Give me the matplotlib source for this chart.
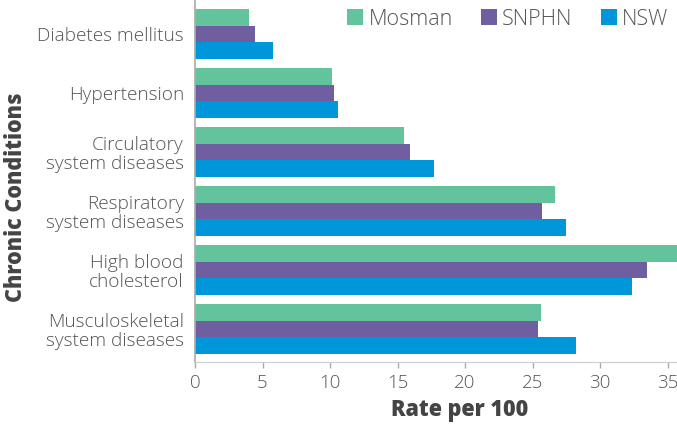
import matplotlib
matplotlib.use("Agg")
import matplotlib.pyplot as plt
import numpy as np

categories = ["Diabetes mellitus", "Hypertension", "Circulatory\nsystem diseases",
              "Respiratory\nsystem diseases", "High blood\ncholesterol",
              "Musculoskeletal\nsystem diseases"]
series_names = ["Mosman", "SNPHN", "NSW"]
mosman = [4.0, 10.15, 15.5, 26.65, 35.8, 25.6]
snphn = [4.45, 10.3, 15.95, 25.7, 33.5, 25.4]
nsw = [5.75, 10.6, 17.7, 27.5, 32.4, 28.2]
xticks = [0, 5, 10, 15, 20, 25, 30, 35]

colors = ["#63C39D", "#6F5FA0", "#0096DA"]
txt = "#555555"
plt.rcParams['font.family'] = ['Open Sans', 'DejaVu Sans']

fig = plt.figure(figsize=(6.77, 4.28), dpi=100)
ax = fig.add_axes([195/677, (428-362)/428, (677-195)/677, 362/428])

y = np.arange(len(categories))
h = 0.85/3
for i, (vals, name) in enumerate(zip([mosman, snphn, nsw], series_names)):
    ax.barh(y - h + i*h, vals, height=h, color=colors[i], label=name, linewidth=0)

ax.set_ylim(5.56, -0.578)
ax.set_xlim(0, 35.7)
ax.set_yticks(y)
ax.set_yticklabels(categories, fontsize=13.7, color=txt, linespacing=1.1, fontweight='light')
ax.set_xticks(xticks)
ax.set_xticklabels([str(t) for t in xticks], fontsize=13.5, color=txt, fontweight='light')
ax.tick_params(axis='y', length=0, pad=8)
ax.tick_params(axis='x', length=4, width=1, color="#aaaaaa", pad=5)
for s in ["top", "right"]:
    ax.spines[s].set_visible(False)
ax.spines["left"].set_color("#aaaaaa")
ax.spines["bottom"].set_color("#cccccc")
ax.spines["left"].set_linewidth(1.2)

ax.set_xlabel("Rate per 100", fontsize=15.5, fontweight='heavy', color="#444444")
ax.xaxis.set_label_coords((460-195)/(677-195), -(410-362)/362, transform=ax.transAxes)
ax.set_ylabel("Chronic Conditions", fontsize=15.5, fontweight='heavy', color="#444444")
ax.yaxis.set_label_coords(-(195-16)/(677-195), (362-197)/362, transform=ax.transAxes)
ax.xaxis.label.set_va('center')
ax.yaxis.label.set_va('center')

leg = ax.legend(ncol=3, loc='upper right', bbox_to_anchor=(1.0, 1.0), frameon=False,
                handlelength=0.75, handleheight=0.75, handletextpad=0.25, columnspacing=1.3,
                fontsize=15.5, borderaxespad=0.0, prop={'weight': 'light', 'size': 15.5})
for t in leg.get_texts():
    t.set_color(txt)

fig.savefig("out.png", dpi=100)
